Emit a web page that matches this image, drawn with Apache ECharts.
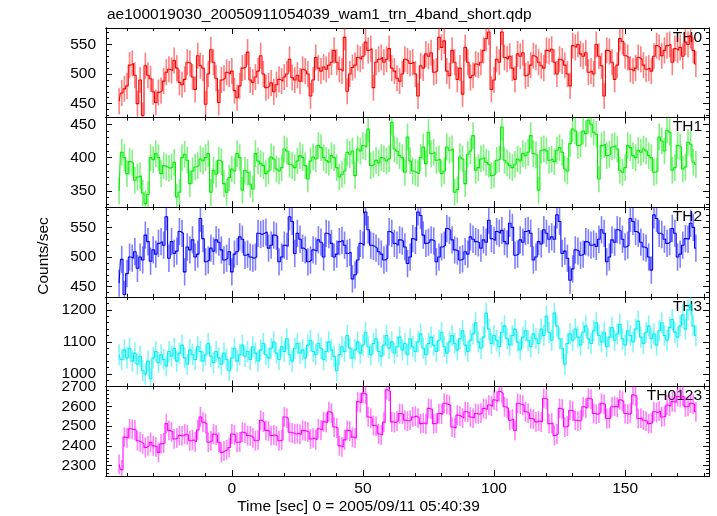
<!DOCTYPE html>
<html><head><meta charset="utf-8">
<script src="https://cdn.jsdelivr.net/npm/echarts@6/dist/echarts.min.js"></script>
<style>html,body{margin:0;padding:0;background:#fff}#c{width:717px;height:516px}</style>
</head><body><div id="c"></div>
<script>
// ---------------- data ----------------
const chartTitle = 'ae100019030_20050911054039_wam1_trn_4band_short.qdp';
const xAxisTitle = 'Time [sec] 0 = 2005/09/11 05:40:39';
const yAxisTitle = 'Counts/sec';
const bandNames = ['TH0', 'TH1', 'TH2', 'TH3', 'TH0123'];
const timeStart = -43;   // centre of first bin (s)
const binSize = 1;       // s

const th0 = [
454,468,475,480,515,518,498,450,490,430,
514,498,492,470,452,469,472,488,503,508,
506,523,510,486,482,491,520,518,495,474,
531,514,510,449,500,541,520,493,452,490,
493,503,500,505,472,460,480,510,512,537,
490,486,495,505,531,500,477,480,485,470,
482,491,488,495,500,525,494,490,498,488,
508,505,500,463,490,528,510,505,512,508,
515,520,540,520,508,505,562,471,500,511,
515,528,525,530,554,540,543,477,520,525,
528,520,525,543,510,505,493,488,500,525,
522,518,520,500,463,514,510,534,530,536,
503,505,562,545,556,505,497,540,520,491,
510,466,545,520,494,498,517,515,520,540,
560,571,474,490,525,520,571,528,525,530,
510,491,534,530,536,497,500,515,531,528,
520,514,510,540,538,542,520,500,525,522,
515,500,480,548,545,550,534,530,536,503,
505,500,550,530,514,463,540,538,520,491,
515,560,555,531,528,508,505,510,528,525,
515,508,510,505,530,548,545,531,540,548,
550,520,543,540,545,530,554,550,565,540,
517];
const th1 = [
350,408,400,376,394,392,366,371,373,347,
331,345,400,397,406,400,376,388,386,384,
386,393,341,348,400,405,396,361,380,386,
388,398,395,400,406,348,381,375,396,394,
361,348,370,383,380,406,400,351,381,378,
360,353,406,395,391,388,376,380,401,398,
383,380,385,413,410,390,388,385,395,403,
400,388,368,395,401,398,418,415,400,396,
393,403,400,385,371,375,380,408,405,410,
373,413,410,418,416,443,388,390,396,392,
400,398,395,398,453,413,410,403,400,378,
431,395,380,378,376,400,416,391,438,406,
408,396,398,376,380,416,411,413,348,352,
401,398,361,405,410,433,381,385,398,400,
393,390,373,375,396,398,446,396,392,388,
385,390,398,395,406,403,408,433,406,404,
351,411,413,410,396,398,394,411,415,408,
383,380,421,443,440,418,420,440,436,456,
450,438,435,368,418,420,403,405,416,418,
413,381,378,385,418,415,403,400,411,408,
413,410,403,400,378,380,431,425,410,441,
438,381,385,418,416,383,386,423,420,393,
390];
const th2 = [
456,496,437,472,500,498,509,481,500,495,
537,526,493,512,505,523,526,520,568,498,
526,506,510,543,540,475,517,512,529,500,
505,565,531,492,495,515,510,529,525,512,
495,498,509,475,505,509,534,530,503,505,
500,498,500,540,538,540,542,515,520,537,
535,492,500,520,518,568,560,506,540,530,
515,512,492,495,512,510,529,525,500,540,
538,523,500,505,526,528,520,506,508,463,
470,495,523,520,576,546,520,518,515,509,
505,495,498,543,540,523,520,529,527,517,
489,500,531,528,576,570,537,523,525,529,
527,492,500,517,520,548,545,529,512,510,
495,497,509,505,534,530,526,524,515,529,
525,562,531,528,543,540,545,526,522,557,
550,503,505,529,525,543,545,540,495,500,
526,522,546,540,530,534,530,571,560,506,
510,498,461,480,512,510,503,505,526,524,
520,522,518,530,546,540,492,500,529,525,
546,544,530,517,520,565,560,543,540,525,
517,515,500,478,571,565,540,538,530,523,
526,548,540,500,505,520,531,530,557,550,
515];
const th3 = [
1060,1045,1075,1050,1080,1040,1065,1030,1055,1010,
1000,1040,985,1050,1070,1035,1060,1045,1025,1070,
1055,1080,1040,1065,1090,1050,1030,1075,1060,1045,
1085,1070,1040,1060,1095,1055,1035,1070,1050,1030,
1065,1045,1010,1050,1080,1040,1060,1090,1055,1070,
1045,1085,1065,1040,1075,1095,1060,1050,1080,1100,
1065,1045,1085,1070,1110,1060,1040,1080,1095,1065,
1075,1050,1090,1105,1070,1060,1095,1080,1045,1070,
1100,1075,1055,1010,1060,1085,1070,1120,1080,1050,
1075,1100,1065,1090,1130,1085,1060,1095,1110,1070,
1055,1090,1120,1080,1100,1065,1085,1115,1075,1095,
1060,1110,1085,1070,1100,1125,1080,1060,1095,1115,
1090,1070,1105,1130,1085,1065,1100,1120,1095,1075,
1110,1135,1090,1070,1105,1125,1160,1100,1080,1115,
1190,1140,1095,1120,1105,1085,1130,1150,1110,1090,
1120,1140,1100,1075,1115,1135,1105,1085,1125,1110,
1095,1140,1120,1180,1130,1105,1190,1150,1110,1080,
1030,1095,1125,1105,1140,1115,1090,1130,1150,1110,
1095,1135,1160,1120,1100,1130,1085,1115,1145,1105,
1125,1155,1110,1090,1135,1120,1100,1140,1165,1115,
1095,1130,1150,1110,1125,1090,1135,1160,1120,1105,
1145,1170,1130,1115,1150,1185,1140,1200,1215,1150,
1120];
const th0123 = [
2307,2280,2444,2440,2486,2483,2481,2426,2420,2410,
2392,2400,2418,2400,2395,2367,2410,2415,2512,2478,
2470,2435,2440,2452,2450,2460,2455,2426,2430,2420,
2480,2546,2520,2512,2418,2425,2460,2455,2418,2367,
2375,2380,2392,2460,2455,2418,2420,2469,2465,2452,
2450,2440,2426,2430,2529,2520,2478,2475,2452,2455,
2450,2426,2430,2546,2540,2469,2465,2460,2462,2458,
2478,2475,2470,2435,2440,2430,2486,2480,2521,2518,
2572,2565,2495,2490,2400,2395,2430,2478,2475,2444,
2440,2623,2618,2666,2660,2546,2540,2503,2500,2460,
2455,2520,2683,2675,2521,2518,2525,2563,2560,2529,
2525,2530,2546,2550,2540,2512,2515,2510,2589,2585,
2512,2515,2563,2560,2615,2610,2605,2495,2490,2555,
2550,2540,2572,2570,2546,2540,2563,2560,2565,2589,
2585,2606,2600,2632,2625,2674,2665,2597,2590,2529,
2535,2478,2615,2610,2605,2572,2565,2538,2535,2521,
2525,2520,2640,2635,2512,2515,2452,2460,2589,2585,
2495,2500,2580,2575,2529,2525,2530,2597,2590,2640,
2635,2563,2560,2565,2615,2610,2538,2540,2597,2600,
2595,2632,2625,2563,2560,2565,2657,2650,2538,2540,
2529,2525,2512,2515,2572,2568,2575,2546,2550,2606,
2600,2623,2620,2649,2645,2650,2597,2600,2615,2610,
2572];
// half-length of the 1-sigma error bars (counts/sec)
const errTH0 = 22, errTH1 = 20, errTH2 = 23, errTH3 = 33, errTH0123 = 50;

// tick labels
const xTickLabels = [0, 50, 100, 150];
const yTickLabelsTH0 = [450, 500, 550];
const yTickLabelsTH1 = [350, 400, 450];
const yTickLabelsTH2 = [450, 500, 550];
const yTickLabelsTH3 = [1000, 1100, 1200];
const yTickLabelsTH0123 = [2300, 2400, 2500, 2600, 2700];

// ---------------- layout / style ----------------
const FONT = 'Liberation Sans, Arial, Helvetica, sans-serif';
const FS = 15.5;
const LEFT = 106, RIGHT = 709, TOP0 = 28, PH = 89.6;
const X_MIN = -48, X_MAX = 182, X_MINOR = 10;
const panels = [
  {name: bandNames[0], data: th0, err: errTH0, labels: yTickLabelsTH0, min: 426.4, max: 577.8, minor: 10, color: '#ff0000', errColor: 'rgba(255,0,0,0.5)'},
  {name: bandNames[1], data: th1, err: errTH1, labels: yTickLabelsTH1, min: 325.7, max: 460,   minor: 10, color: '#00ee00', errColor: 'rgba(0,230,0,0.5)'},
  {name: bandNames[2], data: th2, err: errTH2, labels: yTickLabelsTH2, min: 433,   max: 584,   minor: 10, color: '#0000ff', errColor: 'rgba(0,0,255,0.5)'},
  {name: bandNames[3], data: th3, err: errTH3, labels: yTickLabelsTH3, min: 961,   max: 1241,  minor: 20, color: '#00f0f0', errColor: 'rgba(0,240,240,0.5)'},
  {name: bandNames[4], data: th0123, err: errTH0123, labels: yTickLabelsTH0123, min: 2248, max: 2700, minor: 20, color: '#ff00ff', errColor: 'rgba(255,0,255,0.5)'}
];

function tickList(min, max, step) {
  const out = [];
  for (let v = Math.ceil(min / step - 1e-9) * step; v <= max + 1e-9; v += step) out.push(+v.toFixed(6));
  return out;
}
const xMinorTicks = tickList(X_MIN, X_MAX, X_MINOR);
const plain = v => String(v);

const grids = [], xAxes = [], yAxes = [], series = [], graphics = [];
const lineBlack = {show: true, onZero: false, lineStyle: {color: '#000', width: 1}};

panels.forEach((p, i) => {
  const top = TOP0 + i * PH;
  grids.push({left: LEFT, width: RIGHT - LEFT, top: top, height: PH, containLabel: false});
  const isLast = i === panels.length - 1;
  const xBase = {type: 'value', gridIndex: i, min: X_MIN, max: X_MAX, splitLine: {show: false}, axisLine: lineBlack, axisLabel: {show: false}};
  // bottom minor, bottom major, top minor, top major
  xAxes.push(Object.assign({}, xBase, {position: 'bottom', axisTick: {show: true, inside: true, length: 3, customValues: xMinorTicks, lineStyle: {color: '#000'}}}));
  xAxes.push(Object.assign({}, xBase, {position: 'bottom', axisTick: {show: true, inside: true, length: 6, customValues: xTickLabels, lineStyle: {color: '#000'}},
    axisLabel: isLast ? {show: true, customValues: xTickLabels, formatter: plain, fontSize: FS, color: '#000', fontFamily: FONT, margin: 5} : {show: false}}));
  xAxes.push(Object.assign({}, xBase, {position: 'top', axisTick: {show: true, inside: true, length: 3, customValues: xMinorTicks, lineStyle: {color: '#000'}}}));
  xAxes.push(Object.assign({}, xBase, {position: 'top', axisTick: {show: true, inside: true, length: 6, customValues: xTickLabels, lineStyle: {color: '#000'}}}));

  const yMinor = tickList(p.min, p.max, p.minor);
  const yBase = {type: 'value', gridIndex: i, min: p.min, max: p.max, splitLine: {show: false}, axisLine: lineBlack, axisLabel: {show: false}};
  yAxes.push(Object.assign({}, yBase, {position: 'left', axisTick: {show: true, inside: true, length: 3, customValues: yMinor, lineStyle: {color: '#000'}}}));
  yAxes.push(Object.assign({}, yBase, {position: 'left', axisTick: {show: true, inside: true, length: 6, customValues: p.labels, lineStyle: {color: '#000'}},
    axisLabel: {show: true, customValues: p.labels, formatter: plain, fontSize: FS, color: '#000', fontFamily: FONT, margin: 10}}));
  yAxes.push(Object.assign({}, yBase, {position: 'right', axisTick: {show: true, inside: true, length: 3, customValues: yMinor, lineStyle: {color: '#000'}}}));
  yAxes.push(Object.assign({}, yBase, {position: 'right', axisTick: {show: true, inside: true, length: 6, customValues: p.labels, lineStyle: {color: '#000'}}}));

  const d = p.data.map((v, k) => [timeStart + k * binSize, v]);
  const err = p.err, ymin = p.min, ymax = p.max, ec = p.errColor;
  series.push({
    type: 'custom', xAxisIndex: 4 * i, yAxisIndex: 4 * i, data: d, silent: true, z: 2,
    renderItem: (params, api) => {
      const x = api.value(0), y = api.value(1);
      const lo = Math.max(ymin, y - err), hi = Math.min(ymax, y + err);
      const a = api.coord([x, lo]), b = api.coord([x, hi]);
      return {type: 'line', shape: {x1: a[0], y1: a[1], x2: b[0], y2: b[1]}, style: {stroke: ec, lineWidth: 1.6}};
    }
  });
  series.push({
    type: 'line', xAxisIndex: 4 * i, yAxisIndex: 4 * i, data: d, step: 'middle',
    showSymbol: false, symbol: 'none', silent: true, z: 3,
    lineStyle: {color: p.color, width: 1.1}
  });
  graphics.push({type: 'text', right: 717 - RIGHT + 7, top: top + 1.5,
    style: {text: p.name, font: FS + 'px ' + FONT, fill: '#000'}});
});

graphics.push({type: 'text', left: LEFT + 1, top: 7,
  style: {text: chartTitle, font: FS + 'px ' + FONT, fill: '#000'}});
graphics.push({type: 'text', left: 'center', top: 499,
  style: {text: xAxisTitle, font: FS + 'px ' + FONT, fill: '#000'}});
graphics.push({type: 'text', x: 44, y: 256, rotation: Math.PI / 2,
  style: {text: yAxisTitle, font: FS + 'px ' + FONT, fill: '#000', textAlign: 'center', textVerticalAlign: 'middle'}});

const chart = echarts.init(document.getElementById('c'), null, {renderer: 'canvas'});
chart.setOption({
  animation: false,
  backgroundColor: '#fff',
  grid: grids, xAxis: xAxes, yAxis: yAxes, series: series, graphic: graphics
});
</script>
</body></html>
